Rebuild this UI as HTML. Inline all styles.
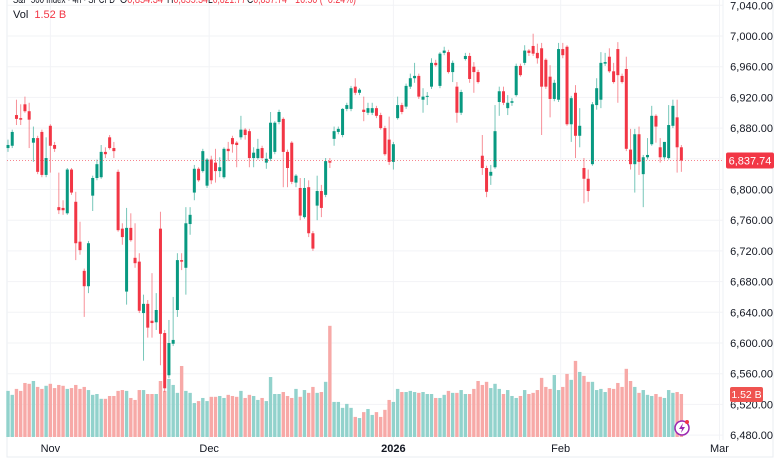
<!DOCTYPE html>
<html><head><meta charset="utf-8">
<style>
html,body{margin:0;padding:0;background:#fff;}
body{width:780px;height:470px;overflow:hidden;position:relative;font-family:"Liberation Sans",sans-serif;}
svg{position:absolute;left:0;top:0;}
</style></head>
<body>
<svg id="chart" width="780" height="470" xmlns="http://www.w3.org/2000/svg">
  <g id="grid"></g>
  <g id="vol"></g>
  <g id="candles"></g>
  <g id="axes"></g>
  <g font-size="11">
    <text x="13" y="3" fill="#131722" textLength="102" lengthAdjust="spacingAndGlyphs">S&amp;P 500 Index · 4h · SPCFD</text>
    <text x="120" y="3" fill="#131722" textLength="43" lengthAdjust="spacingAndGlyphs">O<tspan fill="#f23645">6,854.34</tspan></text>
    <text x="167" y="3" fill="#131722" textLength="41" lengthAdjust="spacingAndGlyphs">H<tspan fill="#f23645">6,855.34</tspan></text>
    <text x="208" y="3" fill="#131722" textLength="38" lengthAdjust="spacingAndGlyphs">L<tspan fill="#f23645">6,821.77</tspan></text>
    <text x="247" y="3" fill="#131722" textLength="40" lengthAdjust="spacingAndGlyphs">C<tspan fill="#f23645">6,837.74</tspan></text>
    <text x="290" y="3" fill="#f23645" textLength="66" lengthAdjust="spacingAndGlyphs">−16.50 (−0.24%)</text>
  </g>
  <text x="13" y="18" font-size="11" fill="#131722">Vol <tspan fill="#f23645" dx="3">1.52 B</tspan></text>
  <g>
    <circle cx="682" cy="428" r="7" fill="#fff" stroke="#9c27b0" stroke-width="1.5"/>
    <path d="M683 423 L679 429 L682 429 L681 433 L685 427 L682 427 Z" fill="#9c27b0"/>
    <circle cx="687" cy="422" r="2" fill="#f23645"/>
  </g>
</svg>
<script>
const opens=[6854,6857,6897,6893,6911,6902,6861,6867,6875,6819,6883,6858,6777,6776,6769,6826,6784,6732,6694,6674,6792,6815,6816,6849,6868,6854,6823,6749,6667,6750,6711,6706,6639,6651,6629,6627,6749,6613,6558,6599,6643,6708,6698,6755,6796,6827,6824,6805,6839,6835,6824,6816,6853,6867,6861,6868,6878,6876,6841,6841,6854,6835,6840,6849,6888,6892,6849,6861,6809,6802,6764,6803,6743,6779,6798,6793,6837,6866,6875,6871,6905,6905,6934,6926,6904,6900,6900,6906,6897,6880,6865,6836,6893,6910,6908,6934,6945,6948,6917,6921,6934,6965,6935,6978,6979,6953,6934,6900,6970,6974,6960,6953,6844,6828,6818,6829,6914,6928,6906,6913,6923,6961,6965,6981,6987,6978,6984,6969,6947,6918,6917,6983,6986,6885,6926,6870,6828,6814,6833,6910,6917,6964,6973,6954,6983,6948,6957,6852,6833,6872,6820,6842,6859,6896,6855,6842,6841,6883,6894,6855];
const highs=[6865,6878,6917,6911,6921,6913,6882,6870,6878,6868,6885,6862,6822,6786,6828,6828,6797,6758,6697,6733,6818,6839,6858,6855,6871,6862,6826,6756,6776,6769,6756,6717,6663,6656,6691,6665,6771,6617,6630,6660,6717,6717,6777,6777,6832,6829,6853,6841,6844,6853,6842,6855,6862,6870,6863,6896,6880,6879,6855,6866,6857,6848,6901,6889,6904,6894,6852,6863,6820,6815,6815,6812,6746,6818,6806,6841,6841,6882,6882,6906,6913,6935,6945,6932,6921,6913,6913,6909,6900,6883,6895,6862,6921,6913,6938,6951,6965,6951,6932,6927,6971,6969,6979,6986,6982,6968,6940,6930,6978,6978,6966,6956,6871,6831,6832,6910,6934,6934,6923,6919,6964,6964,6988,6983,7003,6990,6991,6971,6962,6943,6991,6991,6988,6922,6936,6906,6841,6826,6914,6945,6979,6978,6984,6965,6992,6951,6973,6879,6879,6882,6845,6867,6909,6898,6867,6862,6910,6917,6917,6858];
const lows=[6849,6854,6884,6884,6900,6854,6836,6820,6816,6816,6822,6849,6768,6767,6767,6793,6708,6715,6634,6665,6772,6812,6814,6841,6852,6841,6745,6728,6650,6732,6698,6639,6577,6607,6607,6617,6571,6536,6554,6596,6634,6695,6663,6741,6786,6810,6822,6802,6807,6809,6816,6814,6837,6848,6829,6865,6865,6829,6829,6839,6839,6827,6837,6846,6885,6803,6803,6807,6803,6760,6762,6738,6720,6760,6764,6790,6828,6857,6872,6868,6902,6902,6923,6923,6889,6897,6897,6893,6878,6844,6832,6826,6891,6898,6905,6931,6939,6918,6900,6910,6931,6960,6932,6975,6951,6940,6887,6897,6968,6939,6926,6938,6819,6790,6806,6827,6896,6910,6897,6909,6921,6947,6962,6974,6974,6964,6871,6931,6894,6915,6914,6971,6883,6862,6841,6855,6782,6784,6831,6904,6906,6961,6952,6938,6913,6938,6850,6826,6796,6819,6777,6839,6857,6861,6835,6839,6839,6880,6822,6823];
const closes=[6858,6875,6892,6891,6902,6891,6867,6823,6819,6841,6857,6853,6773,6773,6826,6796,6730,6721,6674,6730,6815,6833,6849,6846,6854,6850,6747,6738,6750,6734,6704,6642,6651,6620,6626,6643,6612,6541,6600,6604,6708,6706,6756,6767,6827,6812,6850,6839,6812,6824,6829,6853,6850,6859,6858,6878,6871,6841,6848,6853,6841,6840,6887,6887,6901,6849,6828,6810,6818,6766,6802,6743,6723,6798,6776,6837,6835,6876,6879,6905,6910,6932,6926,6930,6901,6906,6906,6896,6880,6846,6836,6859,6910,6901,6935,6945,6948,6921,6921,6922,6965,6962,6977,6981,6953,6965,6900,6927,6974,6944,6953,6940,6828,6797,6823,6876,6928,6913,6913,6915,6961,6949,6981,6978,6977,6971,6934,6934,6918,6939,6983,6975,6885,6919,6870,6883,6814,6798,6911,6932,6965,6966,6954,6940,6949,6940,6853,6833,6872,6836,6842,6845,6896,6882,6842,6862,6884,6909,6855,6837.74];
const volumes=[1.63,1.49,1.70,1.63,1.91,1.88,1.98,1.77,1.70,1.81,1.88,1.73,1.84,1.81,1.70,1.73,1.84,1.70,1.77,1.66,1.49,1.52,1.35,1.35,1.45,1.45,1.63,1.66,1.63,1.38,1.31,1.66,1.66,1.52,1.52,1.52,1.98,1.63,2.05,1.84,1.56,2.51,1.63,1.56,1.20,1.27,1.38,1.27,1.42,1.42,1.45,1.38,1.49,1.45,1.42,1.63,1.38,1.49,1.45,1.31,1.38,1.27,2.12,1.52,1.52,1.59,1.45,1.38,1.70,1.42,1.66,1.56,1.77,1.56,1.59,1.95,3.93,1.24,1.24,1.03,1.17,1.03,0.71,0.67,0.88,0.99,0.78,0.88,0.71,0.96,1.31,1.24,1.70,1.59,1.59,1.63,1.59,1.56,1.59,1.52,1.52,1.38,1.38,1.49,1.63,1.56,1.56,1.66,1.52,1.52,1.70,1.98,1.84,1.95,1.73,1.88,1.70,1.52,1.66,1.45,1.38,1.45,1.66,1.52,1.56,1.66,2.09,1.77,1.70,2.19,1.66,1.77,2.23,2.02,2.69,2.30,2.16,1.95,1.95,1.66,1.70,1.59,1.73,1.70,1.91,1.77,2.41,1.98,1.77,1.56,1.66,1.49,1.45,1.52,1.42,1.38,1.66,1.56,1.59,1.52];
const priceTicks=[7040,7000,6960,6920,6880,6840,6800,6760,6720,6680,6640,6600,6560,6520,6480];
const monthLabels=["Nov","Dec","2026","Feb","Mar"];
const monthIndex=[10,47.5,91,130.5,168];

const NS="http://www.w3.org/2000/svg";
const X0=8, STEP=4.235, PLOT_R=723;
function xAt(i){return X0+i*STEP;}
function yAt(p){return 36+(7000-p)*0.7675;}
function vH(v){return v/1.52*43;}
const VBASE=437;
function mk(tag,attrs,parent){const e=document.createElementNS(NS,tag);for(const k in attrs)e.setAttribute(k,attrs[k]);parent.appendChild(e);return e;}

const grid=document.getElementById('grid'), axes=document.getElementById('axes');
let fr=mk('rect',{x:7,y:-1,width:766,height:458,fill:'none',stroke:'#e9ecf2'},grid);


let sep=mk('line',{x1:PLOT_R,y1:0,x2:PLOT_R,y2:440,stroke:'#eef0f4'},grid);


priceTicks.forEach(function(p){
  const y=yAt(p);
  const l=mk('line',{x1:7,y1:y,x2:PLOT_R,y2:y,stroke:'#f2f3f6'},grid);
  
  
  const t=mk('text',{x:773,y:y+4,'font-size':'11','text-anchor':'end',fill:'#131722'},axes);
  t.textContent=p.toLocaleString('en-US',{minimumFractionDigits:2});
  
  
});
monthLabels.forEach(function(m,k){
  const x=xAt(monthIndex[k]);
  const l=mk('line',{x1:x,y1:0,x2:x,y2:440,stroke:'#f2f3f6'},grid);
  
  
  const t=mk('text',{x:x,y:452,'font-size':'11','text-anchor':'middle',fill:'#131722','font-weight':m==='2026'?'bold':'normal'},axes);
  t.textContent=m;
  
  
});

const vol=document.getElementById('vol'), cg=document.getElementById('candles');
for(let i=0;i<opens.length;i++){
  const up=closes[i]>=opens[i];
  const x=xAt(i);
  const h=vH(volumes[i]);
  const vb=mk('rect',{x:x-1.7,y:VBASE-h,width:3.4,height:h,fill:up?'#92d2cc':'#f7a9a7'},vol);
  
  
  const col=up?'#089981':'#f23645';
  const w=mk('line',{x1:x,y1:yAt(highs[i]),x2:x,y2:yAt(lows[i]),stroke:col,'stroke-width':1,opacity:0.55},cg);
  
  
  const top=yAt(Math.max(opens[i],closes[i])), bot=yAt(Math.min(opens[i],closes[i]));
  const b=mk('rect',{x:x-1.5,y:top,width:3,height:Math.max(1,bot-top),fill:col},cg);
  
  
}
const last=closes[closes.length-1];
const ly=yAt(last);
const pl=mk('line',{x1:7,y1:ly,x2:PLOT_R,y2:ly,stroke:'#f23645','stroke-width':1,'stroke-dasharray':'1 2',opacity:0.6},axes);


const pb=mk('rect',{x:726,y:ly-8,width:48,height:16,rx:2,fill:'#f23645'},axes);


const pt=mk('text',{x:750,y:ly+4,'font-size':'11','text-anchor':'middle',fill:'#fff'},axes);
pt.textContent=last.toLocaleString('en-US',{minimumFractionDigits:2});


const lv=volumes[volumes.length-1];
const vy=VBASE-vH(lv);
const vbx=mk('rect',{x:730,y:vy-7,width:33,height:15,rx:2,fill:'#ef5350'},axes);


const vt=mk('text',{x:746.5,y:vy+4,'font-size':'10.5','text-anchor':'middle',fill:'#fff'},axes);
vt.textContent=lv.toFixed(2)+' B';


</script>
</body></html>
